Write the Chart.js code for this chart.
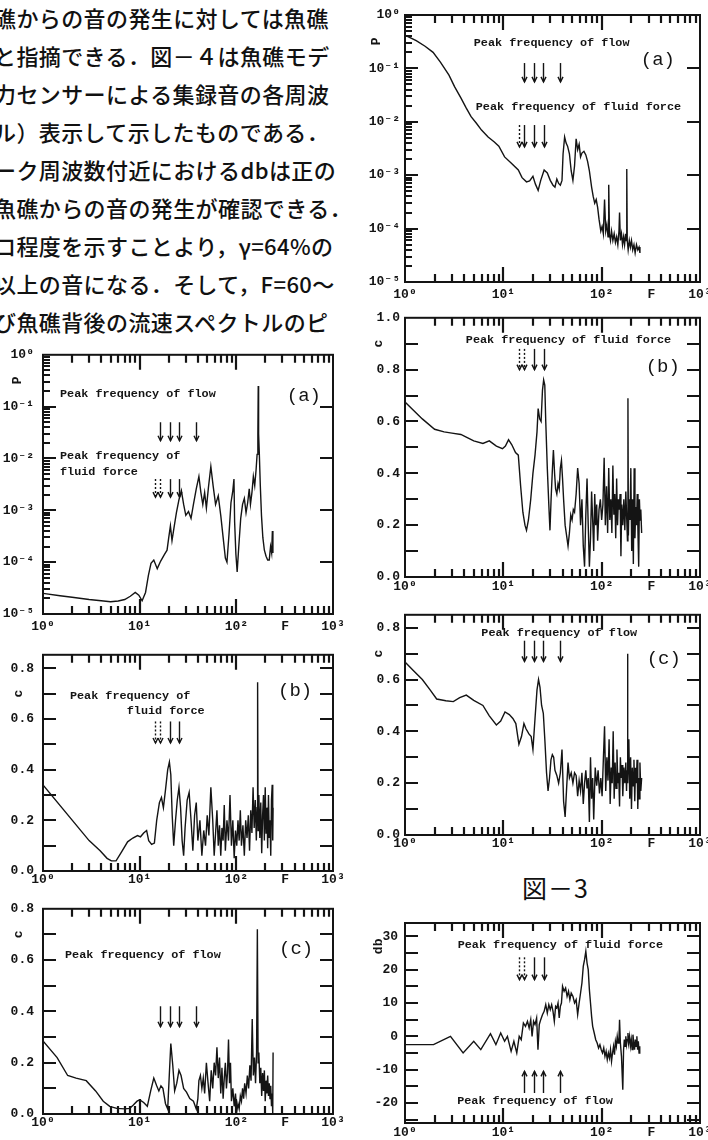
<!DOCTYPE html>
<html lang="ja">
<head>
<meta charset="utf-8">
<title>図-3</title>
<script src="https://cdn.jsdelivr.net/npm/chart.js@4.4.1/dist/chart.umd.min.js"></script>
<style>
  html, body { margin: 0; padding: 0; background: #fff; }
  body { position: relative; width: 708px; height: 1140px; overflow: hidden; }
  .line { position: absolute; left: -6px; font-family: "Noto Sans CJK JP", sans-serif; font-weight: 500; font-size: 22px; line-height: 22px; letter-spacing: 0.4px; color: #111; white-space: nowrap; }
  canvas { position: absolute; }
  #caption { position: absolute; left: 522px; top: 873px; font-family: "Noto Sans CJK JP", sans-serif; font-size: 25px; line-height: 28px; letter-spacing: 1px; color: #111; }
</style>
</head>
<body>
<div class="line" style="top:6px">礁からの音の発生に対しては魚礁</div>
<div class="line" style="top:44px">と指摘できる．図－４は魚礁モデ</div>
<div class="line" style="top:82px">力センサーによる集録音の各周波</div>
<div class="line" style="top:120px">ル）表示して示したものである．</div>
<div class="line" style="top:158px">ーク周波数付近におけるdbは正の</div>
<div class="line" style="top:196px">魚礁からの音の発生が確認できる．</div>
<div class="line" style="top:234px">ロ程度を示すことより，γ=64%の</div>
<div class="line" style="top:272px">以上の音になる．そして，F=60～</div>
<div class="line" style="top:310px">び魚礁背後の流速スペクトルのピ</div>

<canvas id="leftA" width="350" height="300" style="left:0;top:338px"></canvas>
<canvas id="leftB" width="350" height="254" style="left:0;top:638px"></canvas>
<canvas id="leftC" width="350" height="248" style="left:0;top:892px"></canvas>
<canvas id="rightA" width="370" height="305" style="left:356px;top:0"></canvas>
<canvas id="rightB" width="370" height="297" style="left:356px;top:305px"></canvas>
<canvas id="rightC" width="370" height="256" style="left:356px;top:602px"></canvas>
<canvas id="rightDb" width="370" height="235" style="left:356px;top:905px"></canvas>
<div id="caption">図－3</div>

<script>
const INK = '#141414';
const MONO = "'Liberation Mono', 'DejaVu Sans Mono', monospace";

// tick labels
const xTickValues = [1, 10, 100, 320, 1000];
const xTickLabels = ['10⁰', '10¹', '10²', 'F', '10³'];
const logTickValues = [1e-5, 1e-4, 1e-3, 1e-2, 1e-1, 1];
const logTickLabels = ['10⁻⁵', '10⁻⁴', '10⁻³', '10⁻²', '10⁻¹', '10⁰'];
const cohTicks = [0, 0.2, 0.4, 0.6, 0.8];
const cohTicksFull = [0, 0.2, 0.4, 0.6, 0.8, 1.0];
const dbTicks = [-20, -10, 0, 10, 20, 30];

// peak frequencies marked with arrows
const flowPeaks = [16.3, 20.5, 25.5, 38];
const forcePeaks = [14.3, 16.4, 20.4, 25.8];

// spectra: [F, value]
const powerLeftA = [[1,2.5e-5],[1.5,2.25e-5],[2,2.1e-5],[3,1.9e-5],[4,1.8e-5],[5,1.72e-5],[6,1.78e-5],[7,1.9e-5],[8,2.2e-5],[9,2.6e-5],
  [9.8,2.3e-5],[10.6,1.8e-5],[11.5,2.6e-5],[12.3,5.5e-5],[13.1,9.5e-5],[14,1.1e-4],[15.2,7.5e-5],[16.5,1.05e-4],[18,1.4e-4],[19.2,1.7e-4],
  [20,3e-4],[20.8,5e-4],[21.6,2.6e-4],[22.6,4.5e-4],[24,9e-4],[25.5,1.6e-3],[27,2.4e-3],[28.5,1.3e-3],[30,8e-4],[32,9.5e-4],
  [34,7e-4],[36,1.3e-3],[38.5,2.6e-3],[41,4.5e-3],[43,2.2e-3],[45,1.3e-3],[47,2.2e-3],[49,1.1e-3],[51.5,2.8e-3],[54.5,7e-3],
  [57.5,3e-3],[61,1.3e-3],[65,1.9e-3],[69,8e-4],[73,3e-4],[77,1.2e-4],[80,1e-4],[84,3.5e-4],[88,1.4e-3],[92,2.4e-3],
  [94.5,4e-3],[96,6e-4],[99,1.4e-4],[102,6.5e-5],[106,2e-4],[111,7e-4],[116,1.3e-3],[121,1.7e-3],[126,9e-4],[131,1.4e-3],
  [136,2.6e-3],[140,1.3e-3],[145,2.2e-3],[150,4.5e-3],[155,3e-3],[160,6e-3],[164,1.2e-2],[167,3e-2],[168.5,0.25],[170,3e-2],
  [173,1.2e-2],[177,3e-3],[182,8e-4],[188,3e-4],[195,1.7e-4],[203,1.3e-4],[211,1.1e-4],[219,1.1e-4],[226,2e-4],[232,1.5e-4],
  [236,4e-4],[239,1.5e-4]];

const cohLeftB = [[1,0.34],[3,0.12],[3.9,0.08],[4.6,0.05],[5.1,0.04],[5.7,0.04],[6.5,0.075],[7.5,0.115],[8.5,0.13],[9.5,0.14],
  [10.2,0.135],[11,0.15],[11.8,0.16],[12.4,0.12],[13.3,0.105],[14.2,0.11],[15,0.2],[16,0.27],[16.8,0.29],[17.6,0.25],
  [18.5,0.32],[19.5,0.4],[20.3,0.43],[21,0.38],[21.7,0.22],[22.5,0.1],[23.5,0.2],[24.5,0.28],[25.5,0.33],[26.5,0.25],
  [27.5,0.12],[28.5,0.06],[29.5,0.17],[31,0.28],[32.5,0.31],[34,0.2],[35.5,0.08],[37,0.22],[38.5,0.27],[40,0.12],
  [42,0.2],[44,0.06],[46,0.16],[48,0.1],[50,0.22],[52,0.14],[54.5,0.33],[57,0.2],[59,0.06],[61,0.15],
  [63,0.24],[65,0.1],[67,0.18],[69,0.06],[71,0.17],[73,0.12],[75,0.26],[77,0.08],[80,0.2],[83,0.12],
  [86,0.3],[89,0.1],[92,0.2],[95,0.05],[98,0.16],[101,0.1],[104,0.2],[107,0.12],[110,0.24],[113,0.1],
  [117,0.18],[121,0.06],[125,0.2],[129,0.13],[133,0.22],[137,0.08],[141,0.24],[145,0.15],[149,0.33],[153,0.17],
  [157,0.28],[161,0.12],[164,0.25],[166,0.745],[168,0.16],[171,0.3],[175,0.13],[179,0.27],[183,0.07],[187,0.22],
  [191,0.3],[195,0.12],[199,0.33],[203,0.15],[207,0.25],[211,0.09],[215,0.3],[219,0.13],[223,0.2],[227,0.06],
  [231,0.28],[235,0.34],[238,0.12],[240,0.25]];

const cohLeftC = [[1,0.285],[1.4,0.22],[1.8,0.15],[2.2,0.14],[2.8,0.13],[3.5,0.09],[4.2,0.05],[4.9,0.03],[5.8,0.022],[7,0.02],
  [7.9,0.022],[8.6,0.035],[9.4,0.05],[10,0.055],[11,0.045],[12,0.03],[13,0.09],[14,0.14],[15,0.11],[15.8,0.09],
  [16.6,0.11],[17.4,0.1],[18.5,0.04],[19.5,0.02],[20.3,0.16],[21,0.275],[22,0.19],[23,0.09],[24.2,0.12],[25.5,0.17],
  [26.8,0.15],[28.5,0.1],[30.5,0.085],[33,0.06],[36,0.05],[38.5,0.02],[40,0.06],[41,0.13],[42.5,0.15],[44,0.1],
  [45.5,0.14],[47,0.08],[49,0.2],[51,0.12],[53,0.05],[55,0.17],[57,0.1],[59,0.2],[61,0.15],[63,0.26],
  [65,0.14],[67,0.22],[69,0.08],[71,0.18],[73,0.06],[75,0.14],[77,0.2],[79,0.1],[81,0.16],[83,0.29],
  [85,0.12],[87,0.2],[89,0.05],[92,0.1],[95,0.03],[98,0.08],[101,0.01],[104,0.04],[107,0.02],[110,0.07],
  [113,0.05],[116,0.1],[119,0.06],[122,0.12],[126,0.08],[130,0.15],[134,0.1],[138,0.19],[142,0.13],[146,0.37],
  [150,0.15],[154,0.22],[158,0.12],[162,0.24],[165,0.72],[168,0.2],[171,0.24],[175,0.12],[179,0.18],[183,0.07],
  [187,0.16],[191,0.09],[195,0.17],[199,0.05],[203,0.13],[207,0.08],[211,0.15],[215,0.07],[219,0.12],[223,0.06],
  [227,0.11],[231,0.03],[235,0.08],[238,0.0],[240,0.24]];

const powerRightA = [[1,0.42],[1.3,0.33],[1.6,0.26],[1.93,0.2],[2.3,0.13],[2.8,0.075],[3.2,0.045],[3.7,0.028],[4.2,0.018],[4.7,0.0125],
  [5.3,0.0095],[6,0.007],[7,0.0052],[8.1,0.0042],[9,0.0035],[10.3,0.0022],[12,0.0017],[14.2,0.00125],[15.5,0.0009],[17.2,0.00075],
  [18.5,0.00078],[20,0.00095],[21.2,0.00068],[22.6,0.00052],[24,0.0008],[26,0.00125],[28,0.0011],[30,0.0008],[32,0.00065],[33.5,0.0006],
  [35,0.00085],[36.5,0.0007],[38,0.00065],[39.5,0.0008],[40.5,0.0025],[42,0.0052],[43.5,0.004],[45,0.0035],[47,0.0025],[49,0.0012],
  [51,0.0008],[53,0.0015],[55,0.0048],[57,0.003],[59,0.0038],[61,0.0022],[63,0.0026],[66,0.0028],[69,0.0024],[72,0.0018],
  [75,0.0012],[79,0.0006],[82,0.0004],[85,0.0003],[88,0.00035],[91,0.00025],[94,0.00015],[98,0.00009],[101,0.00011],[104,0.00008],
  [107,0.00035],[110,0.00009],[113,0.00012],[116,0.00007],[118,0.00066],[120,0.00008],[123,0.00006],[126,0.00009],[130,0.00006],[134,0.00008],
  [138,0.000055],[142,0.00007],[146,0.00005],[150,0.00009],[152,0.0002],[155,0.00006],[159,0.00008],[163,0.00005],[167,0.00007],[171,0.00005],
  [175,0.00008],[178,0.00006],[180,0.0013],[182,0.00006],[186,0.00004],[191,0.00006],[196,0.000045],[201,0.00006],[207,0.00004],[213,0.00005],
  [219,0.000035],[226,0.00005],[233,0.00004],[240,0.000045],[245,0.000035]];

const cohRightB = [[1,0.675],[1.5,0.61],[2,0.57],[2.5,0.56],[3,0.555],[3.7,0.55],[4.2,0.54],[5,0.525],[6.2,0.515],[7.2,0.525],
  [8.5,0.505],[9.8,0.495],[10.5,0.505],[11.3,0.53],[12.2,0.51],[13.3,0.48],[14.2,0.47],[15,0.35],[15.8,0.25],[16.6,0.2],
  [17.2,0.18],[18,0.22],[19,0.3],[20,0.4],[21,0.47],[22,0.56],[22.6,0.65],[23.4,0.61],[24.2,0.6],[25,0.72],
  [25.7,0.76],[26.4,0.74],[27,0.6],[28,0.42],[29,0.28],[29.8,0.18],[30.6,0.3],[31.5,0.41],[32.3,0.49],[33.2,0.4],
  [34,0.34],[35,0.32],[36,0.36],[37,0.34],[38,0.42],[39,0.45],[40,0.38],[41,0.3],[42.5,0.2],[44,0.16],
  [45.5,0.12],[47,0.17],[48.5,0.24],[50,0.22],[51.5,0.26],[53,0.25],[55,0.32],[57,0.42],[59,0.36],[61,0.2],
  [63,0.3],[65,0.12],[67,0.04],[69,0.24],[71,0.38],[73,0.2],[75,0.04],[77,0.15],[79,0.33],[81,0.22],
  [83,0.1],[85,0.32],[87,0.2],[89,0.28],[91,0.14],[94,0.26],[97,0.3],[100,0.22],[103,0.28],[106,0.46],
  [109,0.2],[112,0.35],[115,0.17],[118,0.42],[121,0.22],[124,0.3],[127,0.17],[130,0.43],[133,0.24],[136,0.32],
  [139,0.15],[142,0.38],[145,0.2],[148,0.3],[151,0.26],[154,0.32],[157,0.08],[160,0.28],[164,0.2],[168,0.3],
  [172,0.18],[176,0.33],[180,0.22],[183,0.14],[185,0.69],[187,0.16],[190,0.3],[194,0.22],[198,0.42],[202,0.1],
  [206,0.3],[210,0.05],[214,0.42],[218,0.15],[222,0.27],[226,0.2],[230,0.32],[234,0.17],[238,0.04],[242,0.3],
  [246,0.22],[250,0.26],[255,0.17]];

const cohRightC = [[1,0.668],[1.25,0.63],[1.5,0.6],[1.8,0.56],[2.1,0.525],[2.6,0.518],[3.1,0.515],[3.6,0.53],[4.2,0.54],[5,0.52],
  [6.2,0.5],[7.2,0.46],[8.5,0.425],[9.4,0.44],[10.4,0.475],[11.5,0.465],[12.5,0.45],[13.4,0.43],[14.4,0.35],[15.3,0.38],
  [16.2,0.43],[17,0.41],[18.2,0.39],[19.2,0.38],[20,0.33],[21,0.45],[22,0.56],[22.8,0.6],[23.6,0.57],[24.5,0.5],
  [25.5,0.47],[26.5,0.36],[27.5,0.24],[28.5,0.17],[29.5,0.22],[30.5,0.29],[31.5,0.31],[32.5,0.3],[33.5,0.25],[35,0.23],
  [36.5,0.2],[38,0.24],[39.5,0.33],[41,0.13],[42.5,0.07],[44,0.18],[45.5,0.28],[47,0.22],[49,0.24],[51,0.2],
  [53,0.24],[55,0.23],[57,0.15],[59,0.21],[61,0.17],[63,0.24],[65,0.12],[67,0.2],[69,0.25],[71,0.18],
  [73,0.22],[75,0.05],[77,0.3],[79,0.14],[81,0.22],[83,0.06],[86,0.26],[89,0.19],[92,0.25],[95,0.16],
  [98,0.22],[101,0.15],[104,0.29],[107,0.42],[110,0.17],[113,0.3],[116,0.21],[119,0.37],[122,0.12],[125,0.26],
  [128,0.2],[131,0.4],[134,0.14],[137,0.28],[140,0.18],[143,0.33],[146,0.2],[149,0.24],[152,0.11],[155,0.3],
  [158,0.22],[161,0.27],[164,0.15],[168,0.26],[172,0.2],[176,0.28],[179,0.17],[181,0.25],[183,0.7],[185,0.2],
  [189,0.37],[193,0.14],[197,0.3],[201,0.1],[205,0.26],[209,0.19],[213,0.29],[217,0.13],[221,0.26],[225,0.2],
  [229,0.29],[233,0.1],[237,0.22],[241,0.14],[245,0.28],[250,0.17],[255,0.22]];

const levelDb = [[1,-2.5],[1.95,-2.5],[2.9,0],[3.9,-5],[5,-1.5],[5.9,-4],[7.4,0.8],[8.4,-2.5],[9.4,1],[10.3,-1.5],
  [11,0],[12,-4.5],[12.8,-1.5],[13.7,-5],[14.5,0],[15.2,-1],[16,4],[16.8,3],[17.6,4.5],[18.3,2.5],
  [19,5],[19.6,0],[20.3,4.5],[21,3.5],[21.8,5.5],[22.5,-4],[23.2,3.5],[24,5],[25,6.5],[26,7.5],
  [27,9.5],[28,7],[29,9.5],[30,8],[31,9.5],[32,7.5],[33,4.5],[34,9],[35,8.5],[36,10],
  [37,5.5],[38,9],[39,10],[40,15],[41.5,13.5],[43,14.5],[44.5,12],[46,13.5],[47.5,11],[49,13],
  [51,12],[53,10],[55,11],[57,6.5],[59,10],[61,13],[63,16],[65,21],[67,23],[69,25.5],
  [71,22],[73,20],[75,14],[77,10],[79,6],[81,3],[84,1],[87,-1],[90,-2],[93,-3.5],
  [96,-2.5],[99,-4],[102,-5],[105,-3.5],[108,-6],[111,-4.5],[114,-7],[117,-5],[120,-6.5],[123,-4],
  [126,-7.5],[129,-5],[132,-3],[135,-5.5],[138,-1.5],[141,-3],[144,0],[147,-2],[150,-1],[152,5],
  [155,-2],[159,-6],[164,-16],[167,-4],[170,-1],[173,-3],[176,0],[179,-2.5],[182,-1],[185,1],
  [188,-2],[192,0],[196,-3],[200,-1],[204,-4],[208,0.5],[212,-2],[216,-4],[220,-1],[224,-3],
  [228,0],[232,-4],[236,-1.5],[240,-5],[244,-3]];

// frame, inward ticks, arrows and labels, all placed with the chart's own scales
const paperFrame = {
  id: 'paperFrame',
  afterDraw(chart, args, o) {
    const { ctx, chartArea: a } = chart;
    const xs = chart.scales.x, ys = chart.scales.y;
    ctx.save();
    ctx.strokeStyle = INK;
    ctx.fillStyle = INK;

    ctx.lineWidth = 2.2;
    ctx.beginPath();
    // x ticks, bottom and top
    [1, 10, 100].forEach(d => {
      for (let m = 1; m <= 9; m++) {
        const v = m * d;
        if (v <= 1) continue;
        const px = Math.round(xs.getPixelForValue(v));
        const len = m === 1 ? 15 : 8;
        ctx.moveTo(px, a.bottom); ctx.lineTo(px, a.bottom - len);
        ctx.moveTo(px, a.top); ctx.lineTo(px, a.top + len);
      }
    });
    // y ticks
    if (o.logY) {
      [-5, -4, -3, -2, -1].forEach(e => {
        for (let m = 1; m <= 9; m++) {
          const py = Math.round(ys.getPixelForValue(m * Math.pow(10, e)));
          if (m === 1) {
            if (e > -5) {
              ctx.moveTo(a.left, py); ctx.lineTo(a.left + 13, py);
              ctx.moveTo(a.right, py); ctx.lineTo(a.right - 13, py);
            }
          } else {
            ctx.moveTo(a.left, py); ctx.lineTo(a.left + 7, py);
          }
        }
      });
    } else {
      const k0 = Math.ceil(ys.min / o.yStep - 1e-6), k1 = Math.floor(ys.max / o.yStep + 1e-6);
      for (let k = k0; k <= k1; k++) {
        const py = Math.round(ys.getPixelForValue(k * o.yStep));
        if (py <= a.top + 1 || py >= a.bottom - 1) continue;
        ctx.moveTo(a.left, py); ctx.lineTo(a.left + 13, py);
        ctx.moveTo(a.right, py); ctx.lineTo(a.right - 13, py);
      }
    }
    ctx.stroke();

    ctx.lineWidth = 2;
    ctx.strokeRect(a.left, a.top, a.right - a.left, a.bottom - a.top);

    // arrows
    ctx.lineWidth = 1.4;
    (o.arrows || []).forEach(ar => {
      const px = Math.round(xs.getPixelForValue(ar.f)) + 0.5;
      const p1 = ys.getPixelForValue(ar.from), p2 = ys.getPixelForValue(ar.to);
      const dir = p2 > p1 ? 1 : -1;
      ctx.setLineDash(ar.dash ? [2, 2] : []);
      ctx.beginPath(); ctx.moveTo(px, p1); ctx.lineTo(px, p2); ctx.stroke();
      ctx.setLineDash([]);
      ctx.beginPath();
      ctx.moveTo(px - 2.5, p2 - dir * 5); ctx.lineTo(px, p2); ctx.lineTo(px + 2.5, p2 - dir * 5);
      ctx.stroke();
    });

    // texts
    ctx.textBaseline = 'middle';
    (o.texts || []).forEach(t => {
      ctx.font = t.font;
      ctx.textAlign = t.align || 'left';
      ctx.fillText(t.t, xs.getPixelForValue(t.f), ys.getPixelForValue(t.v));
    });

    // rotated y title
    if (o.yTitle) {
      ctx.save();
      ctx.translate(a.left + o.yTitle.dx, ys.getPixelForValue(o.yTitle.v));
      ctx.rotate(-Math.PI / 2);
      ctx.font = 'bold 13px ' + MONO;
      ctx.textAlign = 'center';
      ctx.fillText(o.yTitle.t, 0, 0);
      ctx.restore();
    }
    ctx.restore();
  }
};

const peakFont = 'bold 11.8px ' + MONO;
const tagFont = '19px ' + MONO;

function makeChart(id, pairs, cfg) {
  const tickFont = { family: MONO, weight: 'bold', size: 13 };
  const yScale = cfg.logY ? {
    type: 'logarithmic', min: 1e-5, max: 1,
    afterBuildTicks: s => { s.ticks = logTickValues.map(v => ({ value: v })); },
    ticks: { callback: (v, i) => logTickLabels[i] }
  } : {
    type: 'linear', min: cfg.yMin, max: cfg.yMax,
    afterBuildTicks: s => { s.ticks = cfg.yTicks.map(v => ({ value: v })); },
    ticks: { callback: v => cfg.db ? String(v) : v.toFixed(1) }
  };
  Object.assign(yScale, {
    grid: { display: false, drawTicks: false },
    border: { display: false },
    afterFit: s => { s.width = cfg.yw; }
  });
  Object.assign(yScale.ticks, { color: INK, font: tickFont, padding: cfg.ypad, autoSkip: false });

  return new Chart(document.getElementById(id), {
    type: 'line',
    data: {
      datasets: [{
        data: pairs.map(p => ({ x: p[0], y: p[1] })),
        borderColor: INK, borderWidth: 1.4, pointRadius: 0, tension: 0, fill: false
      }]
    },
    options: {
      responsive: false, animation: false, devicePixelRatio: 1,
      layout: { padding: { top: cfg.top, right: cfg.right, left: 0, bottom: 0 } },
      plugins: {
        legend: { display: false }, tooltip: { enabled: false },
        paperFrame: { logY: cfg.logY, yStep: cfg.yStep, arrows: cfg.arrows, texts: cfg.texts, yTitle: cfg.yTitle }
      },
      scales: {
        x: {
          type: 'logarithmic', min: 1, max: 1000,
          grid: { display: false, drawTicks: false }, border: { display: false },
          afterBuildTicks: s => { s.ticks = xTickValues.map(v => ({ value: v })); },
          afterFit: s => { s.height = cfg.xh; },
          ticks: { autoSkip: false, maxRotation: 0, color: INK, font: tickFont, padding: cfg.xpad,
                   callback: (v, i) => xTickLabels[i] }
        },
        y: yScale
      }
    },
    plugins: [paperFrame]
  });
}

function arrowSet(freqs, from, to, dashedCount) {
  return freqs.map((f, i) => ({ f, from, to, dash: i < dashedCount }));
}

// left column
makeChart('leftA', powerLeftA, {
  logY: true, yw: 43, ypad: 9, top: 14, right: 17, xh: 24, xpad: 5,
  yTitle: { t: 'P', v: 0.32, dx: -25 },
  arrows: arrowSet(flowPeaks, 0.05, 0.022, 0).concat(arrowSet(forcePeaks, 0.004, 0.0018, 2)),
  texts: [
    { t: 'Peak frequency of flow', f: 1.5, v: 0.178, font: peakFont },
    { t: 'Peak frequency of', f: 1.5, v: 0.011, font: peakFont },
    { t: 'fluid force', f: 1.5, v: 0.0056, font: peakFont },
    { t: '(a)', f: 500, v: 0.16, font: tagFont, align: 'center' }
  ]
});
makeChart('leftB', cohLeftB, {
  logY: false, yMin: 0, yMax: 0.853, yTicks: cohTicks, yStep: 0.1,
  yw: 43, ypad: 9, top: 7, right: 17, xh: 21, xpad: 1,
  yTitle: { t: 'c', v: 0.7, dx: -24 },
  arrows: arrowSet(forcePeaks, 0.59, 0.505, 2),
  texts: [
    { t: 'Peak frequency of', f: 1.9, v: 0.69, font: peakFont },
    { t: 'fluid force', f: 7.35, v: 0.63, font: peakFont },
    { t: '(b)', f: 406, v: 0.71, font: tagFont, align: 'center' }
  ]
});
makeChart('leftC', cohLeftC, {
  logY: false, yMin: 0, yMax: 0.8, yTicks: cohTicks, yStep: 0.1,
  yw: 43, ypad: 9, top: 10, right: 17, xh: 26, xpad: 1,
  yTitle: { t: 'c', v: 0.7, dx: -24 },
  arrows: arrowSet(flowPeaks, 0.42, 0.34, 0),
  texts: [
    { t: 'Peak frequency of flow', f: 1.69, v: 0.62, font: peakFont },
    { t: '(c)', f: 415, v: 0.645, font: tagFont, align: 'center' }
  ]
});

// right column
makeChart('rightA', powerRightA, {
  logY: true, yw: 49, ypad: 5, top: 15, right: 26, xh: 23, xpad: 5,
  yTitle: { t: 'P', v: 0.32, dx: -28 },
  arrows: arrowSet(flowPeaks, 0.126, 0.056, 0).concat(arrowSet(forcePeaks, 0.0087, 0.0034, 1)),
  texts: [
    { t: 'Peak frequency of flow', f: 31, v: 0.295, font: peakFont, align: 'center' },
    { t: 'Peak frequency of fluid force', f: 58, v: 0.0186, font: peakFont, align: 'center' },
    { t: '(a)', f: 373, v: 0.141, font: tagFont, align: 'center' }
  ]
});
makeChart('rightB', cohRightB, {
  logY: false, yMin: 0, yMax: 1.0, yTicks: cohTicksFull, yStep: 0.1,
  yw: 49, ypad: 5, top: 10, right: 26, xh: 25, xpad: 2,
  yTitle: { t: 'c', v: 0.9, dx: -26 },
  arrows: arrowSet(forcePeaks, 0.88, 0.8, 2),
  texts: [
    { t: 'Peak frequency of fluid force', f: 46, v: 0.915, font: peakFont, align: 'center' },
    { t: '(b)', f: 418, v: 0.81, font: tagFont, align: 'center' }
  ]
});
makeChart('rightC', cohRightC, {
  logY: false, yMin: 0, yMax: 0.85, yTicks: cohTicks, yStep: 0.1,
  yw: 49, ypad: 5, top: 8, right: 26, xh: 23, xpad: 1,
  yTitle: { t: 'c', v: 0.7, dx: -26 },
  arrows: arrowSet(flowPeaks, 0.75, 0.67, 0),
  texts: [
    { t: 'Peak frequency of flow', f: 37, v: 0.78, font: peakFont, align: 'center' },
    { t: '(c)', f: 428, v: 0.68, font: tagFont, align: 'center' }
  ]
});
makeChart('rightDb', levelDb, {
  logY: false, db: true, yMin: -26, yMax: 34, yTicks: dbTicks, yStep: 5,
  yw: 49, ypad: 7, top: 18, right: 26, xh: 17, xpad: 2,
  yTitle: { t: 'db', v: 27, dx: -26 },
  arrows: arrowSet(forcePeaks, 23.7, 17, 2).concat(arrowSet(flowPeaks, -17, -10.5, 0)),
  texts: [
    { t: 'Peak frequency of fluid force', f: 38, v: 27.5, font: peakFont, align: 'center' },
    { t: 'Peak frequency of flow', f: 21, v: -19.5, font: peakFont, align: 'center' }
  ]
});
</script>
</body>
</html>
